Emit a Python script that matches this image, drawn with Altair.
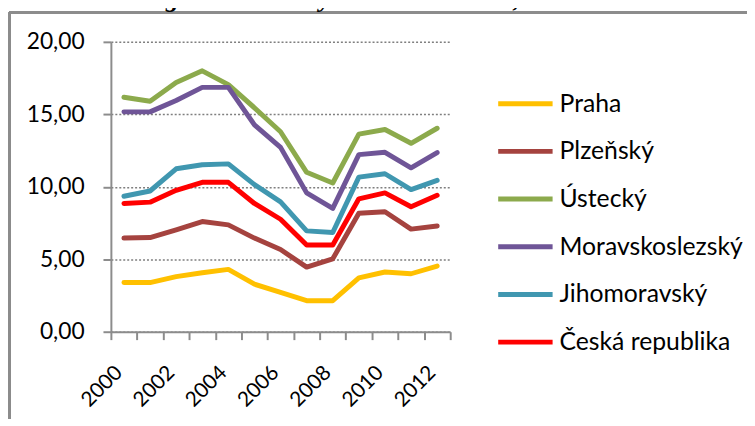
import altair as alt
import pandas as pd

years = list(range(2000, 2013))
series_names = ["Praha", "Plzeňský", "Ústecký", "Moravskoslezský", "Jihomoravský", "Česká republika"]
series_colors = ["#FFC000", "#A5433F", "#8CAA4C", "#6F5597", "#4097B0", "#FF0000"]

praha = [3.39, 3.39, 3.80, 4.07, 4.30, 3.28, 2.71, 2.14, 2.14, 3.71, 4.12, 4.00, 4.53]
plzensky = [6.46, 6.50, 7.03, 7.60, 7.37, 6.46, 5.67, 4.46, 5.03, 8.17, 8.28, 7.08, 7.30]
ustecky = [16.18, 15.90, 17.20, 18.00, 17.05, 15.45, 13.80, 11.00, 10.26, 13.63, 13.95, 13.00, 14.04]
moravskoslezsky = [15.17, 15.17, 15.95, 16.86, 16.86, 14.27, 12.72, 9.58, 8.51, 12.22, 12.38, 11.31, 12.36]
jihomoravsky = [9.35, 9.71, 11.24, 11.52, 11.58, 10.15, 8.96, 6.96, 6.85, 10.67, 10.90, 9.81, 10.44]
ceska_republika = [8.85, 8.94, 9.76, 10.31, 10.31, 8.85, 7.76, 5.99, 5.99, 9.17, 9.58, 8.62, 9.42]

title_text = "lokální registrované míry nezaměstnanosti, data 2000-2012"

values = [praha, plzensky, ustecky, moravskoslezsky, jihomoravsky, ceska_republika]
rows = []
for i, (name, vals) in enumerate(zip(series_names, values)):
    for y, v in zip(years, vals):
        rows.append({"rok": y, "hodnota": v, "kraj": name, "poradi": i})
df = pd.DataFrame(rows)

FONT = "Lato"
GRAY = "#8C8C8C"

tick_vals = [y - 0.5 for y in years] + [years[-1] + 0.5]

x_axis = alt.Axis(
    values=tick_vals,
    labelExpr="(datum.value + 0.5) % 2 == 0 ? format(datum.value + 0.5, 'd') : ''",
    labelOffset=8,
    labelAngle=315,
    labelAlign="right",
    labelBaseline="middle",
    labelPadding=30,
    labelOverlap=False,
    labelFont=FONT,
    labelFontSize=21,
    labelColor="black",
    tickSize=8,
    tickColor=GRAY,
    tickWidth=2,
    domainColor=GRAY,
    domainWidth=2,
    grid=False,
    title=None,
)
y_axis = alt.Axis(
    values=[0, 5, 10, 15, 20],
    labelExpr="replace(format(datum.value, '.2f'), '.', ',')",
    labelFont=FONT,
    labelFontSize=23,
    labelColor="black",
    labelPadding=19,
    tickSize=8,
    tickColor=GRAY,
    tickWidth=2,
    domainColor=GRAY,
    domainWidth=2,
    grid=True,
    gridColor="#7F7F7F",
    gridDash=[2, 2],
    gridWidth=1.5,
    title=None,
)

lines = alt.Chart(df).mark_line(strokeWidth=5, strokeJoin="round", strokeCap="round").encode(
    x=alt.X("rok:Q", scale=alt.Scale(domain=[1999.5, 2012.5], nice=False, zero=False), axis=x_axis),
    y=alt.Y("hodnota:Q", scale=alt.Scale(domain=[0, 20], nice=False), axis=y_axis),
    color=alt.Color(
        "kraj:N",
        scale=alt.Scale(domain=series_names, range=series_colors),
        sort=series_names,
        legend=alt.Legend(
            orient="none",
            legendX=402.5,
            legendY=46,
            title=None,
            symbolType="M-2,0H2",
            symbolSize=756,
            symbolStrokeWidth=5,
            labelFont=FONT,
            labelFontSize=25,
            labelColor="black",
            labelOffset=18,
            labelLimit=0,
            rowPadding=18.2,
            padding=0,
        ),
    ),
    order=alt.Order("poradi:Q"),
    detail="poradi:Q",
)

frame_left = alt.Chart(df).mark_rule(color=GRAY, strokeWidth=2).encode(
    x=alt.value(-102.5), y=alt.value(-29.5), y2=alt.value(420)
)
frame_top = alt.Chart(df).mark_rule(color=GRAY, strokeWidth=2).encode(
    x=alt.value(-102.5), x2=alt.value(700), y=alt.value(-29.5)
)
title = alt.Chart(pd.DataFrame({"t": [title_text]})).mark_text(
    font="Liberation Serif", fontStyle="italic", fontWeight="bold", fontSize=26,
    align="right", baseline="alphabetic"
).encode(x=alt.value(585), y=alt.value(-35), text="t:N")

chart = alt.layer(frame_left, frame_top, lines, title).properties(
    width=343, height=293,
    autosize=alt.AutoSizeParams(type="none"),
    padding={"left": 104, "top": 32, "right": 300, "bottom": 86},
).configure_view(stroke=None)

chart.save("out.html", embed_options={"renderer": "svg", "actions": False})
